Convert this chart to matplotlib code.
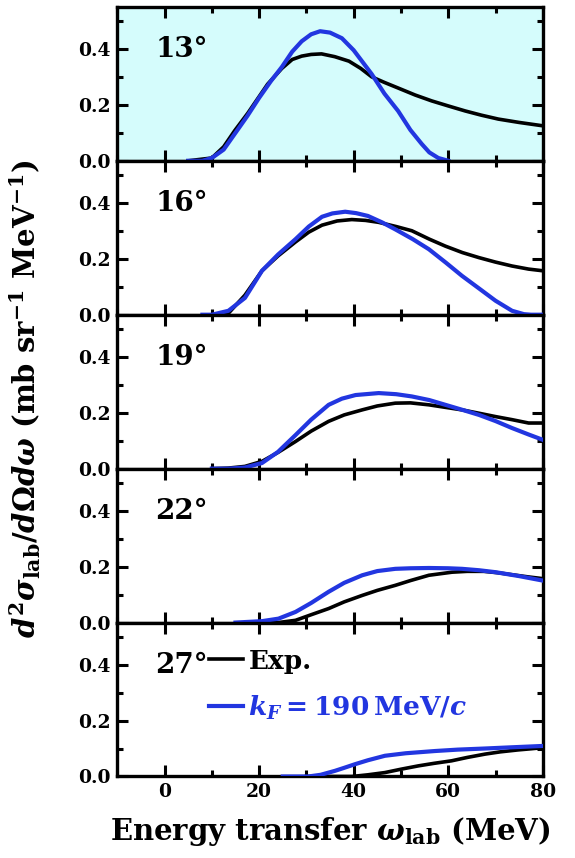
import matplotlib.pyplot as plt
from matplotlib.ticker import MultipleLocator
from matplotlib.lines import Line2D

plt.rcParams['font.family'] = 'DejaVu Serif'
plt.rcParams['font.weight'] = 'bold'
plt.rcParams['axes.labelweight'] = 'bold'
plt.rcParams['mathtext.fontset'] = 'custom'
plt.rcParams['mathtext.rm'] = 'DejaVu Serif:bold'
plt.rcParams['mathtext.it'] = 'DejaVu Serif:bold:italic'
plt.rcParams['mathtext.bf'] = 'DejaVu Serif:bold'

# Streuwinkel
angles = ["13°", "16°", "19°", "22°", "27°"]

# Experiment (omega in MeV, Wirkungsquerschnitt in mb/sr/MeV)
exp_w = [
    [5, 10, 12.5, 14.8, 17.6, 21.8, 24.8, 27, 29, 31, 33.2, 36, 39, 41.5, 43.8, 46.5,
     49.4, 53, 56.5, 60, 63.6, 67, 70.6, 75, 80],
    [10, 13.5, 17, 20.6, 24, 27.7, 30.5, 33.3, 36.5, 39.6, 42.5, 45.3, 49, 52.3, 56,
     59.4, 63, 66.5, 70, 73.5, 77, 80],
    [10, 13.5, 17, 20.6, 24, 27.7, 31, 34.7, 38, 41.8, 45, 48.8, 52, 55.9, 59, 62.9,
     66.5, 70, 73.5, 77, 80],
    [20, 24, 27.7, 31, 34.7, 38, 41.8, 45, 48.8, 52, 55.9, 60.8, 64, 67.5, 70.5, 73.5, 77, 80],
    [30, 39.6, 43, 46.6, 50, 53.7, 57, 60.7, 64, 67.8, 71, 74.8, 77.5, 80],
]
exp_s = [
    [0.0, 0.01, 0.05, 0.107, 0.17, 0.274, 0.33, 0.362, 0.374, 0.38, 0.382, 0.372, 0.356,
     0.33, 0.30, 0.28, 0.26, 0.235, 0.214, 0.196, 0.178, 0.163, 0.149, 0.137, 0.125],
    [0.0, 0.005, 0.07, 0.157, 0.21, 0.26, 0.295, 0.32, 0.335, 0.34, 0.337, 0.33, 0.315,
     0.30, 0.27, 0.245, 0.222, 0.204, 0.188, 0.174, 0.163, 0.157],
    [0.0, 0.002, 0.008, 0.026, 0.058, 0.097, 0.134, 0.169, 0.192, 0.21, 0.224, 0.234,
     0.235, 0.228, 0.22, 0.21, 0.198, 0.186, 0.175, 0.163, 0.163],
    [0.0, 0.0, 0.008, 0.028, 0.05, 0.074, 0.097, 0.115, 0.133, 0.15, 0.169, 0.18, 0.183,
     0.183, 0.178, 0.171, 0.163, 0.157],
    [0.0, 0.0, 0.006, 0.014, 0.026, 0.038, 0.047, 0.056, 0.068, 0.08, 0.088, 0.095, 0.099, 0.103],
]

# Rechnung mit k_F = 190 MeV/c
th_w = [
    [5, 8, 10, 12.5, 15, 17.5, 20, 22.5, 24.8, 27, 29, 31, 32.9, 35, 37.5, 40, 43.8,
     46.5, 49.4, 52, 54.4, 56, 57.9, 60],
    [8, 10, 13.5, 17, 20.6, 24, 27.7, 30.5, 33.3, 35.5, 38.2, 40.5, 43, 46, 48.8, 52.5,
     55.9, 59.5, 62.9, 66.5, 70, 73.5, 76, 77.5, 80],
    [10, 13.5, 17, 20.6, 24, 27.7, 31, 34.7, 37.5, 40.4, 45.3, 49, 52.3, 56, 59.4, 63,
     66.5, 70, 73.5, 77, 80],
    [15, 20.6, 24.1, 27.7, 31, 34.7, 38, 41.8, 45, 48.8, 52, 55.9, 60, 62.9, 66.5, 70, 75, 80],
    [25, 30.4, 33, 36, 38, 40.3, 43, 46.6, 51, 57.2, 62, 67.8, 73, 79.8],
]
th_s = [
    [0.0, 0.0, 0.01, 0.04, 0.10, 0.16, 0.225, 0.285, 0.335, 0.39, 0.427, 0.452, 0.463,
     0.458, 0.438, 0.395, 0.31, 0.24, 0.178, 0.11, 0.06, 0.03, 0.01, 0.0],
    [0.0, 0.0, 0.014, 0.06, 0.157, 0.215, 0.27, 0.315, 0.35, 0.362, 0.368, 0.363, 0.353,
     0.33, 0.305, 0.27, 0.234, 0.186, 0.139, 0.094, 0.05, 0.014, 0.002, 0.0, 0.0],
    [0.0, 0.0, 0.004, 0.02, 0.06, 0.12, 0.175, 0.228, 0.25, 0.263, 0.27, 0.266, 0.258,
     0.245, 0.228, 0.21, 0.192, 0.17, 0.145, 0.122, 0.103],
    [0.0, 0.005, 0.014, 0.038, 0.07, 0.11, 0.142, 0.169, 0.184, 0.192, 0.194, 0.195,
     0.194, 0.192, 0.187, 0.18, 0.166, 0.15],
    [0.0, 0.0, 0.006, 0.02, 0.031, 0.044, 0.058, 0.074, 0.083, 0.091, 0.096, 0.10, 0.104, 0.109],
]

blue = '#2236e0'

fig, axes = plt.subplots(5, 1, figsize=(5.75, 8.58), dpi=100, sharex=True)
fig.subplots_adjust(left=0.204, right=0.944, top=0.992, bottom=0.095, hspace=0)

for i, ax in enumerate(axes):
    ax.plot(exp_w[i], exp_s[i], color='black', lw=2.6, zorder=2)
    ax.plot(th_w[i], th_s[i], color=blue, lw=3.0, zorder=3)
    ax.set_xlim(-10, 80)
    ax.set_ylim(0, 0.55)
    ax.xaxis.set_major_locator(MultipleLocator(20))
    ax.xaxis.set_minor_locator(MultipleLocator(10))
    ax.yaxis.set_major_locator(MultipleLocator(0.2))
    ax.yaxis.set_minor_locator(MultipleLocator(0.1))
    ax.tick_params(which='both', direction='in', top=True, right=True, width=2.2,
                   labelsize=13.5, pad=5)
    ax.tick_params(which='major', length=8)
    ax.tick_params(which='minor', length=4)
    for s in ax.spines.values():
        s.set_linewidth(2.4)
    ax.set_yticks([0.0, 0.2, 0.4])
    ax.set_yticklabels(['0.0', '0.2', '0.4'])
    ax.text(0.09, 0.72, angles[i], transform=ax.transAxes, fontsize=20,
            fontweight='bold', va='center', ha='left')

axes[0].set_facecolor('#d5fcfc')

# Legende im untersten Feld
handles = [Line2D([], [], color='black', lw=2.6),
           Line2D([], [], color=blue, lw=3.0)]
labels = ['Exp.', r'$k_F=190\,$MeV$/c$']
leg = axes[4].legend(handles, labels, loc='upper left', bbox_to_anchor=(0.215, 0.83),
                     frameon=False, fontsize=19, handlelength=1.3, handletextpad=0.2,
                     labelspacing=0.75, borderpad=0, borderaxespad=0)
leg.get_texts()[1].set_color(blue)

axes[4].set_xticks([0, 20, 40, 60, 80])
axes[4].set_xlabel(r'Energy transfer $\omega_{\rm lab}$ (MeV)', fontsize=21, labelpad=10)
fig.text(0.045, 0.535, r'$d^2\sigma_{\rm lab}/d\Omega d\omega$ (mb sr$^{-1}$ MeV$^{-1}$)',
         rotation=90, fontsize=21, ha='center', va='center')

plt.savefig('out.png', dpi=100)
